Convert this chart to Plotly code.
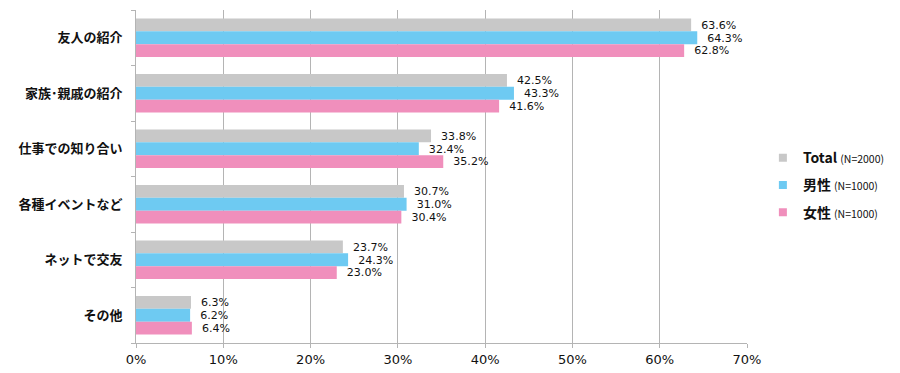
import plotly.graph_objects as go

categories = ["友人の紹介", "家族･親戚の紹介", "仕事での知り合い", "各種イベントなど", "ネットで交友", "その他"]
total = [63.6, 42.5, 33.8, 30.7, 23.7, 6.3]
male = [64.3, 43.3, 32.4, 31.0, 24.3, 6.2]
female = [62.8, 41.6, 35.2, 30.4, 23.0, 6.4]
series_names = [
    "<b>Total</b> <span style='font-size:10.5px'>(N=2000)</span>",
    "<b>男性</b> <span style='font-size:10.5px'>(N=1000)</span>",
    "<b>女性</b> <span style='font-size:10.5px'>(N=1000)</span>",
]
colors = ["#c8c8c8", "#6ecaf2", "#f08fbc"]
x_ticks = [0, 10, 20, 30, 40, 50, 60, 70]

fig = go.Figure()
for i, (name, vals, col) in enumerate(zip(series_names, [total, male, female], colors)):
    fig.add_trace(go.Bar(
        y=categories, x=vals, name=name, orientation="h",
        marker=dict(color=col, line=dict(width=0)),
        text=[f"  {v:.1f}%" for v in vals], textposition="outside",
        textfont=dict(size=13, color="#111", family="DejaVu Sans"),
        cliponaxis=False, showlegend=False,
    ))
for i, (name, col) in enumerate(zip(series_names, colors)):
    fig.add_trace(go.Scatter(
        x=[None], y=[None], mode="markers", name=name,
        marker=dict(symbol="square", size=8, color=col),
        legendgroup=f"g{i}", showlegend=True,
    ))

fig.update_layout(
    width=900, height=373,
    margin=dict(l=128, r=161, t=2, b=38, autoexpand=False),
    paper_bgcolor="white", plot_bgcolor="white",
    barmode="group", bargap=0.31, bargroupgap=0,
    font=dict(family="Noto Sans CJK JP, DejaVu Sans", color="#111"),
    legend=dict(x=1.026, y=0.474, xanchor="left", yanchor="middle",
                font=dict(size=14, family="Noto Sans CJK JP, DejaVu Sans"),
                itemwidth=30, tracegroupgap=6, traceorder="grouped"),
)
fig.update_xaxes(
    range=[0, 70], tickvals=x_ticks, ticktext=[f"{t}%" for t in x_ticks],
    showgrid=True, gridcolor="#b4b4b4", gridwidth=1,
    showline=True, linecolor="#b4b4b4", ticks="outside", ticklen=4, tickcolor="#b4b4b4",
    tickfont=dict(size=13, family="DejaVu Sans"), zeroline=False, automargin=False,
)
fig.update_yaxes(
    autorange="reversed", showline=True, linecolor="#b4b4b4",
    ticks="outside", tickson="boundaries", ticklen=4, tickcolor="#b4b4b4",
    tickfont=dict(size=13, family="Noto Sans CJK JP"), ticklabelstandoff=10,
    automargin=False,
)
fig.update_yaxes(ticktext=[f"<b>{c}</b>" for c in categories], tickvals=categories)

fig.write_html("out.html")
